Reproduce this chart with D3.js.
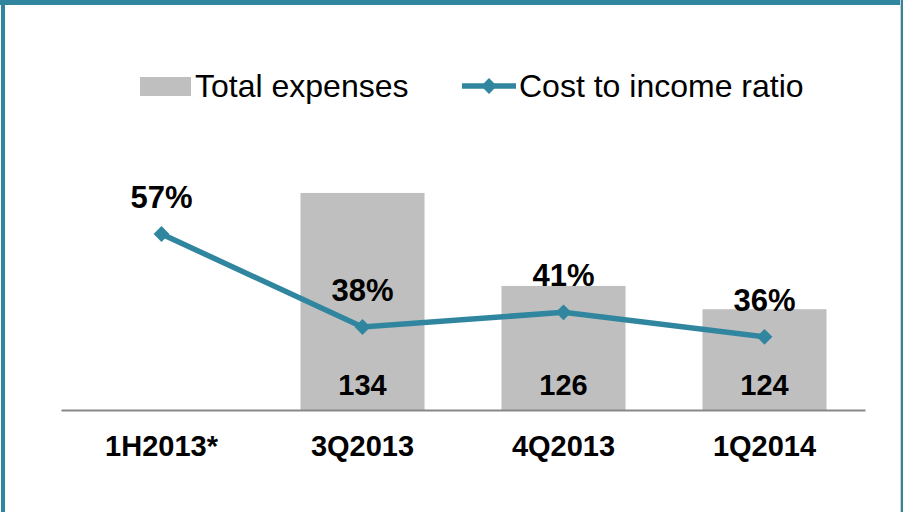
<!DOCTYPE html>
<html>
<head>
<meta charset="utf-8">
<script src="https://cdn.jsdelivr.net/npm/d3@7"></script>
<style>
  body { margin: 0; background: #fff; }
  svg { display: block; font-family: Arial, "Liberation Sans", sans-serif; }
</style>
</head>
<body>
<div id="graph"></div>
<script>
// data
var categories = ["1H2013*", "3Q2013", "4Q2013", "1Q2014"];
var expenses = [null, 134, 126, 124];
var ratio = [57, 38, 41, 36];

var W = 903, H = 512;
var teal = "#31869f";

var svg = d3.select("#graph").append("svg")
    .attr("width", W)
    .attr("height", H);

// frame
svg.append("rect").attr("x", 0).attr("y", 0).attr("width", W).attr("height", 5).attr("fill", teal);
svg.append("rect").attr("x", 1).attr("y", 0).attr("width", 4).attr("height", H).attr("fill", teal);
svg.append("rect").attr("x", 900).attr("y", 0).attr("width", 1).attr("height", H).attr("fill", "#d0d0d0");
svg.append("rect").attr("x", 901).attr("y", 0).attr("width", 2).attr("height", H).attr("fill", teal);

var base = 410;

var x = d3.scaleBand()
    .domain(categories)
    .range([61, 865])
    .paddingInner(0.383)
    .paddingOuter(0.1915);

var yBar = d3.scaleLinear().domain([115.33, 140]).range([base, 123.2]);
var yLine = d3.scaleLinear().domain([36, 57]).range([336.8, 234]);

var rows = categories.map(function(c, i) {
    return {cat: c, exp: expenses[i], ratio: ratio[i]};
});

// bars
svg.selectAll(".bar")
    .data(rows.filter(function(d) { return d.exp != null; }))
    .enter().append("rect")
    .attr("class", "bar")
    .attr("x", function(d) { return x(d.cat); })
    .attr("y", function(d) { return yBar(d.exp); })
    .attr("width", x.bandwidth())
    .attr("height", function(d) { return base - yBar(d.exp); })
    .attr("fill", "#bfbfbf");

// x axis
var xAxis = d3.axisBottom(x).tickSize(0).tickPadding(0);
var gx = svg.append("g")
    .attr("transform", "translate(0," + base + ")")
    .call(xAxis);
gx.select(".domain").attr("stroke", "#878787").attr("stroke-width", 2);
gx.selectAll(".tick text")
    .attr("y", 46)
    .attr("dy", 0)
    .style("font-size", "29px")
    .style("font-weight", "bold")
    .style("font-family", "Arial, 'Liberation Sans', sans-serif")
    .attr("fill", "#000");

// value labels inside bars
svg.selectAll(".vlabel")
    .data(rows.filter(function(d) { return d.exp != null; }))
    .enter().append("text")
    .attr("class", "vlabel")
    .attr("x", function(d) { return x(d.cat) + x.bandwidth() / 2; })
    .attr("y", base - 15)
    .attr("text-anchor", "middle")
    .style("font-size", "29px")
    .style("font-weight", "bold")
    .text(function(d) { return d.exp; });

// line
var cx = function(d) { return x(d.cat) + x.bandwidth() / 2; };
var line = d3.line()
    .x(cx)
    .y(function(d) { return yLine(d.ratio); });

svg.append("path")
    .datum(rows)
    .attr("d", line)
    .attr("fill", "none")
    .attr("stroke", teal)
    .attr("stroke-width", 5.5);

var diamond = d3.symbol().type(d3.symbolDiamond2).size(160);
svg.selectAll(".pt")
    .data(rows)
    .enter().append("path")
    .attr("class", "pt")
    .attr("d", diamond)
    .attr("transform", function(d) { return "translate(" + cx(d) + "," + yLine(d.ratio) + ")"; })
    .attr("fill", teal);

svg.selectAll(".plabel")
    .data(rows)
    .enter().append("text")
    .attr("class", "plabel")
    .attr("x", cx)
    .attr("y", function(d) { return yLine(d.ratio) - 26; })
    .attr("text-anchor", "middle")
    .style("font-size", "31px")
    .style("font-weight", "bold")
    .text(function(d) { return d.ratio + "%"; });

// legend
var lg = svg.append("g");
lg.append("rect").attr("x", 140).attr("y", 77).attr("width", 51).attr("height", 19).attr("fill", "#bfbfbf");
lg.append("text").attr("x", 195).attr("y", 97).style("font-size", "32px").text("Total expenses");
lg.append("line").attr("x1", 462).attr("x2", 516).attr("y1", 86).attr("y2", 86)
    .attr("stroke", teal).attr("stroke-width", 5.5);
lg.append("path").attr("d", diamond).attr("transform", "translate(489,86)").attr("fill", teal);
lg.append("text").attr("x", 519).attr("y", 97).style("font-size", "32px").text("Cost to income ratio");
</script>
</body>
</html>
